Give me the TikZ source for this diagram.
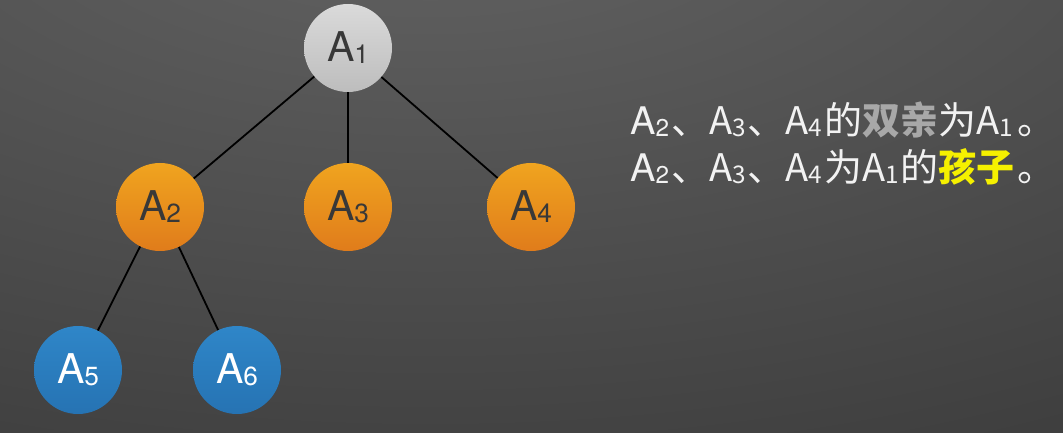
\documentclass[tikz,border=0pt]{standalone}
\usepackage{fontspec}
\setmainfont{TeX Gyre Heros}
\newfontfamily\cjk{Noto Sans CJK SC}
\newcommand{\dg}[1]{\raisebox{-0.05em}{\scalebox{0.64}{#1}}}
\newcommand{\dgk}[1]{\dg{#1}\kern2pt}
\newcommand{\jd}{\kern3pt\cjk{。}}
\definecolor{bgTop}{HTML}{646464}
\definecolor{bgBot}{HTML}{262626}
\definecolor{greyT}{HTML}{DADADA}
\definecolor{greyB}{HTML}{BDBDBD}
\definecolor{orT}{HTML}{F0A41F}
\definecolor{orB}{HTML}{E07C1B}
\definecolor{blT}{HTML}{2F86C8}
\definecolor{blB}{HTML}{2673B3}
\definecolor{txtW}{HTML}{F2F2F2}
\definecolor{hlGrey}{HTML}{A8A8A8}
\definecolor{hlYel}{HTML}{F5F000}
\begin{document}
\begin{tikzpicture}[x=1pt,y=1pt,
  tnode/.style={circle, minimum size=88pt, inner sep=0pt, draw=none,
    font=\fontsize{41}{41}\selectfont},
  greynode/.style={tnode, top color=greyT, bottom color=greyB, text=black!78},
  orangenode/.style={tnode, top color=orT, bottom color=orB, text=black!78},
  bluenode/.style={tnode, top color=blT, bottom color=blB, text=white},
  edge/.style={draw=black, line width=1.8pt},
  txt/.style={anchor=base west, inner sep=0pt, text=txtW,
    font=\fontsize{38}{38}\selectfont}]
\useasboundingbox (0,0) rectangle (1063,433);
\begin{scope}
  \clip (0,0) rectangle (1063,433);
  \fill[bgBot] (0,0) rectangle (1063,433);
  \shade[inner color=bgTop, outer color=bgBot] (430,560) ellipse (2200 and 1050);
\end{scope}
\node[greynode]   (a1) at (348,385) {A\dg{1}};
\node[orangenode] (a2) at (160,226) {A\dg{2}};
\node[orangenode] (a3) at (348,226) {A\dg{3}};
\node[orangenode] (a4) at (531,226) {A\dg{4}};
\node[bluenode]   (a5) at (78,63)   {A\dg{5}};
\node[bluenode]   (a6) at (237,63)  {A\dg{6}};
\draw[edge] (a1) -- (a2);
\draw[edge] (a1) -- (a3);
\draw[edge] (a1) -- (a4);
\draw[edge] (a2) -- (a5);
\draw[edge] (a2) -- (a6);
\node[txt] (l1) at (630,298) {A\dgk{2}\cjk{、}A\dgk{3}\cjk{、}A\dgk{4}\cjk{的\textcolor{hlGrey}{\bfseries 双亲}为}A\dgk{1}\jd};
\node[txt] (l2) at (630,251) {A\dgk{2}\cjk{、}A\dgk{3}\cjk{、}A\dgk{4}\cjk{为}A\dgk{1}\cjk{的\textcolor{hlYel}{\bfseries 孩子}}\jd};
\end{tikzpicture}
\end{document}
